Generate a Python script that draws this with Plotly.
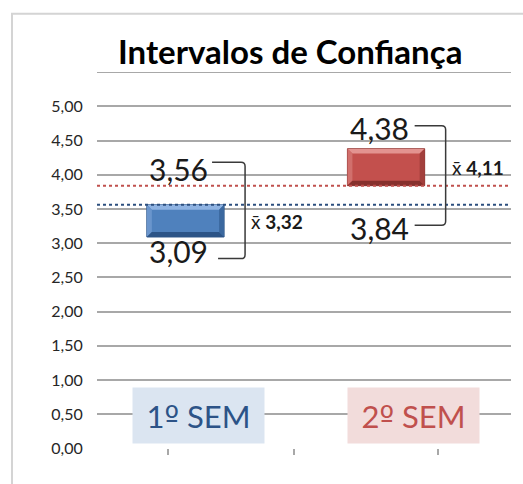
import plotly.graph_objects as go

# ---------------- data ----------------
semesters = ["1<span style='font-family:DejaVu Sans'>º</span> SEM",
             "2<span style='font-family:DejaVu Sans'>º</span> SEM"]
lower = [3.09, 3.84]
upper = [3.56, 4.38]
means = [3.32, 4.11]
ytick_vals = [0, 0.5, 1, 1.5, 2, 2.5, 3, 3.5, 4, 4.5, 5]
title_text = "Intervalos de Confiança"

# ---------------- styles ----------------
W, H = 523, 484
FONT = "Lato, Carlito, 'Open Sans', sans-serif"
box_fill = ["#4f81bd", "#c3504d"]
box_top = ["#8fb3e2", "#e39390"]
box_left = ["#6a95cc", "#d16f6c"]
box_right = ["#3b689f", "#a23f3c"]
box_bot = ["#2c5487", "#86302d"]
dot_col = ["#2c4f7f", "#c0504d"]
lab_bg = ["#dbe5f1", "#f2dcdb"]
lab_fg = ["#2c5387", "#c0504d"]
grid_col = "#a8a8a8"

# plot area in pixels
PL, PR = 97, 511
PB, PT = 456, 73.2
YMAX = 5.5
XR = [-0.441, 1.623]
K = (PB - PT) / YMAX
KX = (PR - PL) / (XR[1] - XR[0])
BW = 0.385
BEV = 5

def xpx(v):
    return PL + (v - XR[0]) * KX

def ypx(v):
    return PB - v * K

def px2p(x, y):
    return x / W, 1 - y / H

def P(x, y):
    a, b = px2p(x, y)
    return f"{a:.5f},{b:.5f}"

# label offsets (pixels, relative to mean)
hi_off = [-53, -40]
lo_off = [30, 62]
br_top = [-60, -42]
br_bot = [38, 59]
br_start_top = [-12, -10]
br_start_bot = [-6, -10]
cat_center_px = [198.5, 413]

fmt = lambda v: f"{v:.2f}".replace(".", ",")

fig = go.Figure()

xs = list(range(len(semesters)))
fig.add_trace(go.Bar(
    x=xs, base=lower, y=[u - l for u, l in zip(upper, lower)],
    width=BW, marker=dict(color=box_fill, line=dict(color=box_bot, width=1)),
    hoverinfo="skip", showlegend=False))

shapes = []
annotations = []

# title
tx, ty = px2p(290, 52)
annotations.append(dict(x=tx, y=ty, xref="paper", yref="paper", text=f"<b>{title_text}</b>",
                        showarrow=False, font=dict(family=FONT, size=33, color="#000000"),
                        xanchor="center", yanchor="middle"))

# outer border
x0, y0 = px2p(12, 14)
x1, y1 = px2p(540, 500)
shapes.append(dict(type="rect", xref="paper", yref="paper", x0=x0, y0=y1, x1=x1, y1=y0,
                   line=dict(color="#d4d4d4", width=2), fillcolor="rgba(0,0,0,0)", layer="below"))

# top gridline (5,50 without label)
shapes.append(dict(type="line", xref="x domain", yref="y", x0=0, x1=1, y0=YMAX, y1=YMAX,
                   line=dict(color=grid_col, width=1.5), layer="below"))

for i in xs:
    bl = xpx(i - BW / 2); br = xpx(i + BW / 2)
    bt = ypx(upper[i]); bb = ypx(lower[i])
    # bevel bands
    bands = [
        (box_top[i], [(bl, bt), (br, bt), (br - BEV, bt + BEV), (bl + BEV, bt + BEV)]),
        (box_left[i], [(bl, bt), (bl + BEV, bt + BEV), (bl + BEV, bb - BEV), (bl, bb)]),
        (box_right[i], [(br, bt), (br, bb), (br - BEV, bb - BEV), (br - BEV, bt + BEV)]),
        (box_bot[i], [(bl, bb), (bl + BEV, bb - BEV), (br - BEV, bb - BEV), (br, bb)]),
    ]
    for col, pts in bands:
        path = "M " + " L ".join(P(x, y) for x, y in pts) + " Z"
        shapes.append(dict(type="path", xref="paper", yref="paper", path=path,
                           fillcolor=col, line=dict(width=0), layer="above"))
    # dotted reference lines
    ref = upper[i] if i == 0 else lower[i]
    shapes.append(dict(type="line", xref="x domain", yref="y", x0=0, x1=1, y0=ref, y1=ref,
                       line=dict(color=dot_col[i], width=2, dash="dot"), layer="above"))
    mpx = ypx(means[i])
    # hi / lo labels
    for val, off in ((upper[i], hi_off[i]), (lower[i], lo_off[i])):
        lx, ly = px2p(br - 14, mpx + off)
        annotations.append(dict(x=lx, y=ly, xref="paper", yref="paper", text=fmt(val),
                                showarrow=False, xanchor="right", yanchor="middle",
                                font=dict(family=FONT, size=30, color="#1a1a1a")))
    # bracket
    xv = br + 21
    yt = mpx + br_top[i]; yb = mpx + br_bot[i]
    r = 4
    path = (f"M {P(br + br_start_top[i], yt)} L {P(xv - r, yt)} Q {P(xv, yt)} {P(xv, yt + r)} "
            f"L {P(xv, yb - r)} Q {P(xv, yb)} {P(xv - r, yb)} L {P(br + br_start_bot[i], yb)}")
    shapes.append(dict(type="path", xref="paper", yref="paper", path=path,
                       line=dict(color="#3a3a3a", width=1.5)))
    # mean label
    mx, my = px2p(xv + 4, mpx)
    annotations.append(dict(x=mx, y=my, xref="paper", yref="paper",
                            text=f"x̄ <b>{fmt(means[i])}</b>", showarrow=False,
                            xanchor="left", yanchor="middle",
                            font=dict(family=FONT, size=19, color="#1a1a1a")))
    # category label box
    cxp, cyp = px2p(cat_center_px[i], 422.5)
    annotations.append(dict(x=cxp, y=cyp, xref="paper", yref="paper", text=semesters[i],
                            showarrow=False, xanchor="center", yanchor="middle",
                            width=131, height=55, bgcolor=lab_bg[i], borderpad=0,
                            font=dict(family=FONT, size=31, color=lab_fg[i])))

fig.update_layout(
    width=W, height=H, margin=dict(l=0, r=0, t=0, b=0),
    paper_bgcolor="white", plot_bgcolor="white",
    barmode="overlay", shapes=shapes, annotations=annotations,
    xaxis=dict(domain=[PL / W, PR / W], range=XR, showgrid=False, zeroline=False,
               showticklabels=False, ticks="outside", ticklen=6, tickcolor=grid_col, tickwidth=1.5,
               tickvals=[-0.087, 0.541, 1.259], fixedrange=True),
    yaxis=dict(domain=[(H - PB) / H, (H - PT) / H], range=[-0.002, YMAX + 0.002],
               tickvals=ytick_vals,
               ticktext=[fmt(v) for v in ytick_vals],
               showgrid=True, gridcolor=grid_col, gridwidth=1.5, zeroline=False,
               ticks="outside", ticklen=10, tickcolor="rgba(0,0,0,0)",
               tickfont=dict(family=FONT, size=16, color="#262626"), fixedrange=True),
)

fig.write_html("out.html", config={"displayModeBar": False},
               post_script="document.body.style.margin='0';document.body.style.overflow='hidden';")
